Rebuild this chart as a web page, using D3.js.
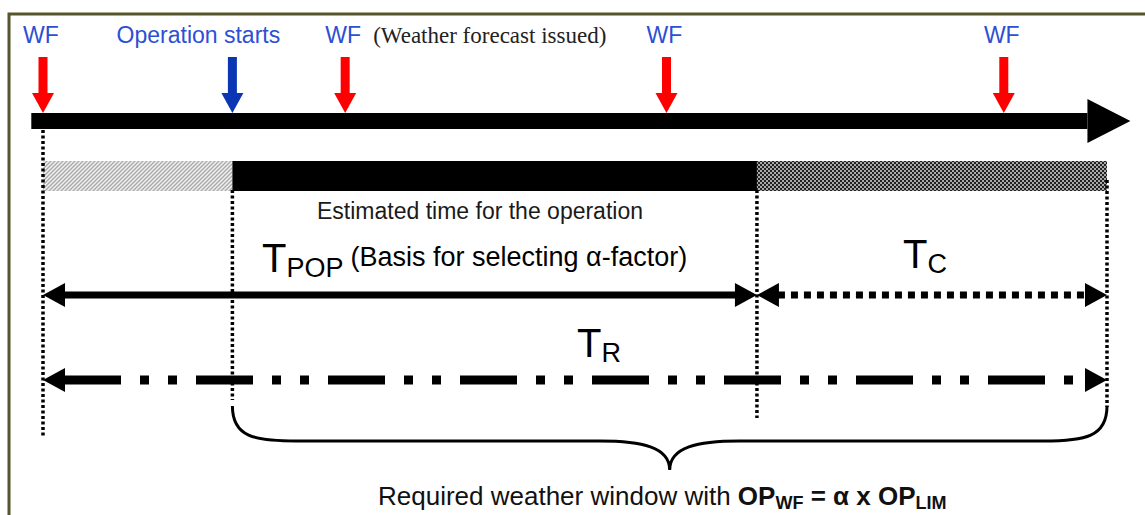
<!doctype html>
<html>
<head>
<meta charset="utf-8">
<script src="https://cdn.jsdelivr.net/npm/d3@7"></script>
<style>
  body { margin: 0; background: #fff; }
  svg { display: block; }
  svg text { font-family: "Liberation Sans", Arial, sans-serif; }
</style>
</head>
<body>
<svg id="chart"></svg>
<script>
  // time runs 0..100 over the required period T_R
  const markerTimes = [0, 17.8, 28.4, 58.6, 90.3];
  const markerKinds = ["wf", "start", "wf", "wf", "wf"];
  const markerLabels = ["WF", "Operation starts", "WF", "WF", "WF"];
  const markerNotes = ["", "", "(Weather forecast issued)", "", ""];

  const phaseNames = ["before", "operation", "contingency"];
  const phaseStarts = [0, 17.8, 67.1];
  const phaseEnds = [17.8, 67.1, 100];

  const guideTimes = [0, 17.8, 67.1, 100];

  const spanNames = ["POP", "C", "R"];
  const spanFrom = [0, 67.1, 0];
  const spanTo = [67.1, 100, 100];
  const spanNotes = [" (Basis for selecting α-factor)", "", ""];

  const axisExtent = [-1.1, 102.2];

  const W = 1145, H = 515;
  const x = d3.scaleLinear().domain([0, 100]).range([43, 1107]);
  const rowY = d3.scaleOrdinal()
    .domain(["label", "axis", "phase", "POP", "C", "R", "brace", "caption"])
    .range([43, 121, 161, 295, 295, 380, 441, 505]);

  const svg = d3.select("#chart").attr("width", W).attr("height", H);
  const defs = svg.append("defs");

  const light = defs.append("pattern").attr("id", "hatchLight")
    .attr("width", 4).attr("height", 4).attr("patternUnits", "userSpaceOnUse");
  light.append("rect").attr("width", 4).attr("height", 4).attr("fill", "#f0f0f0");
  light.append("path").attr("d", "M-1,1 l2,-2 M0,4 l4,-4 M3,5 l2,-2")
    .attr("stroke", "#a8a8a8").attr("stroke-width", 1.3);

  const dark = defs.append("pattern").attr("id", "checkDark")
    .attr("width", 4).attr("height", 4).attr("patternUnits", "userSpaceOnUse");
  dark.append("rect").attr("width", 4).attr("height", 4).attr("fill", "#a8a8a8");
  dark.append("rect").attr("width", 2).attr("height", 2).attr("fill", "#222");
  dark.append("rect").attr("x", 2).attr("y", 2).attr("width", 2).attr("height", 2).attr("fill", "#222");

  const phaseFill = d3.scaleOrdinal().domain(phaseNames)
    .range(["url(#hatchLight)", "#000", "url(#checkDark)"]);

  // frame
  svg.append("path").attr("d", `M9,${H} V14 H${W}`)
    .attr("fill", "none").attr("stroke", "#56552b").attr("stroke-width", 3);

  function head(g, tipX, y, dir, len, half) {
    g.append("path")
      .attr("d", `M${tipX},${y} L${tipX - dir * len},${y - half} L${tipX - dir * len},${y + half} Z`)
      .attr("fill", "#000");
  }

  // main time axis
  const axisY = rowY("axis");
  const axisG = svg.append("g");
  axisG.append("rect")
    .attr("x", x(axisExtent[0])).attr("y", axisY - 8)
    .attr("width", x(axisExtent[1]) - 43 - x(axisExtent[0])).attr("height", 16)
    .attr("fill", "#000");
  head(axisG, x(axisExtent[1]), axisY, 1, 43, 22);

  // markers (weather forecasts and operation start)
  const labelY = rowY("label");
  markerTimes.forEach((t, i) => {
    const cx = x(t);
    const col = markerKinds[i] === "start" ? "#0a36b4" : "#ff0000";
    svg.append("rect").attr("x", cx - 4.5).attr("y", 57).attr("width", 9).attr("height", 38).attr("fill", col);
    svg.append("path").attr("d", `M${cx - 11},93 L${cx + 11},93 L${cx},113 Z`).attr("fill", col);
    const lx = markerKinds[i] === "start" ? cx - 34 : cx - 2;
    svg.append("text").attr("x", lx).attr("y", labelY)
      .attr("text-anchor", "middle").attr("font-size", 23).attr("fill", "#2d4fd4")
      .text(markerLabels[i]);
    if (markerNotes[i]) {
      svg.append("text").attr("x", cx + 28).attr("y", labelY)
        .attr("font-size", 23).attr("fill", "#222")
        .style("font-family", "'Liberation Serif', 'Times New Roman', serif")
        .text(markerNotes[i]);
    }
  });

  // phase bars
  const phaseY = rowY("phase");
  phaseNames.forEach((p, i) => {
    svg.append("rect")
      .attr("x", x(phaseStarts[i])).attr("y", phaseY)
      .attr("width", x(phaseEnds[i]) - x(phaseStarts[i])).attr("height", 30)
      .attr("fill", phaseFill(p));
  });
  svg.append("text").attr("x", 317).attr("y", 219).attr("font-size", 23).attr("fill", "#1a1a1a")
    .text("Estimated time for the operation");

  // dotted guides
  const guideTop = [130, 190, 190, 180];
  const guideBottom = [437, 400, 418, 407];
  guideTimes.forEach((t, i) => {
    svg.append("line")
      .attr("x1", x(t)).attr("x2", x(t))
      .attr("y1", guideTop[i]).attr("y2", guideBottom[i])
      .attr("stroke", "#000").attr("stroke-width", 3.5).attr("stroke-dasharray", "3,2.5");
  });

  // span arrows
  const spanDash = ["", "7,6", "57,19,9,19,9,19"];
  const spanWidth = [7, 7, 9];
  const labelAt = [262, 903, 577];
  const labelBase = [272, 268, 357];
  spanNames.forEach((s, i) => {
    const y = rowY(s), a = x(spanFrom[i]), b = x(spanTo[i]);
    const g = svg.append("g");
    g.append("line").attr("x1", a + 21).attr("x2", b - 21).attr("y1", y).attr("y2", y)
      .attr("stroke", "#000").attr("stroke-width", spanWidth[i])
      .attr("stroke-dasharray", spanDash[i] || null);
    head(g, a, y, -1, 22, 12);
    head(g, b, y, 1, 22, 12);
    const t = svg.append("text").attr("x", labelAt[i]).attr("y", labelBase[i]).attr("fill", "#000");
    t.append("tspan").attr("font-size", 40).text("T");
    t.append("tspan").attr("font-size", 27).attr("dy", 5).text(s);
    if (spanNotes[i]) t.append("tspan").attr("font-size", 27).attr("dy", -11).text(spanNotes[i]);
  });

  // brace under the operation + contingency period
  const bl = x(phaseStarts[1]), br = x(phaseEnds[2]), bm = (bl + br) / 2;
  const by = rowY("brace"), braceTop = 406, braceTip = 470;
  const brace = d3.path();
  brace.moveTo(bl, braceTop);
  brace.bezierCurveTo(bl, by - 4, bl + 22, by, bl + 64, by);
  brace.lineTo(bm - 70, by);
  brace.bezierCurveTo(bm - 28, by, bm, by + 6, bm, braceTip);
  brace.bezierCurveTo(bm, by + 6, bm + 28, by, bm + 70, by);
  brace.lineTo(br - 64, by);
  brace.bezierCurveTo(br - 22, by, br, by - 4, br, braceTop);
  svg.append("path").attr("d", brace.toString())
    .attr("fill", "none").attr("stroke", "#000").attr("stroke-width", 3);

  const cap = svg.append("text").attr("x", 378).attr("y", rowY("caption"))
    .attr("font-size", 26).attr("fill", "#111");
  cap.append("tspan").text("Required weather window with ");
  cap.append("tspan").attr("font-weight", "bold").text("OP");
  cap.append("tspan").attr("font-weight", "bold").attr("font-size", 18).attr("dy", 4).text("WF");
  cap.append("tspan").attr("font-weight", "bold").attr("dy", -4).text(" = α x OP");
  cap.append("tspan").attr("font-weight", "bold").attr("font-size", 18).attr("dy", 4).text("LIM");
</script>
</body>
</html>
